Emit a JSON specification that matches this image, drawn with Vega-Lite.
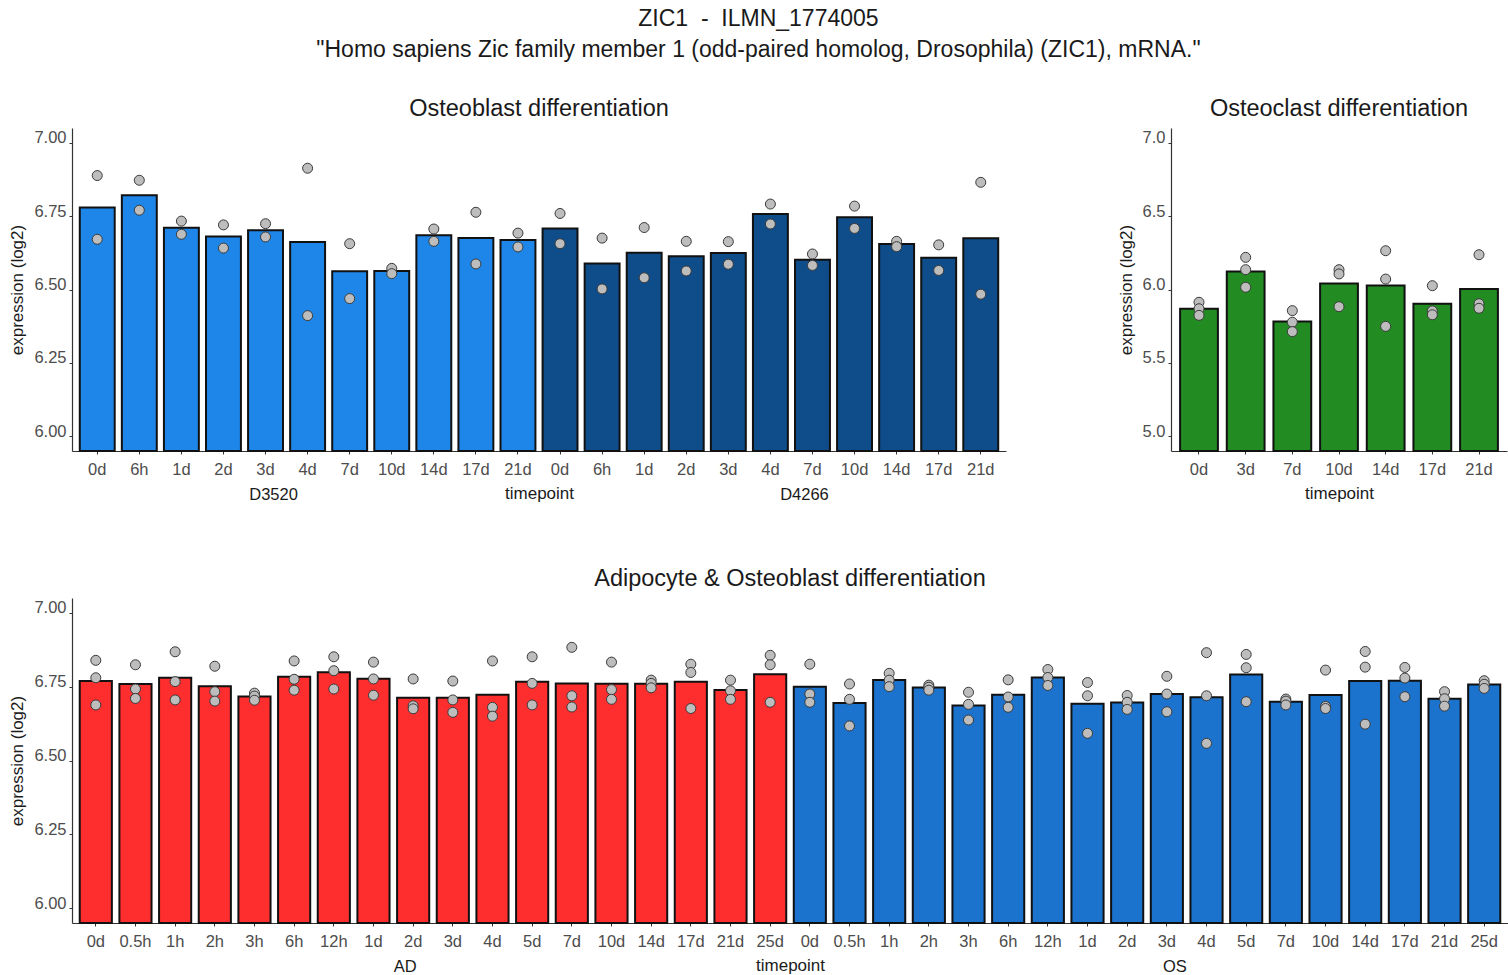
{
  "$schema": "https://vega.github.io/schema/vega-lite/v6.json",
  "padding": {"left": 8, "top": 7, "right": 0, "bottom": 0},
  "title": {
    "text": "ZIC1 \u00a0-\u00a0 ILMN_1774005",
    "subtitle": "\"Homo sapiens Zic family member 1 (odd-paired homolog, Drosophila) (ZIC1), mRNA.\"",
    "anchor": "middle",
    "frame": "bounds",
    "fontSize": 23,
    "subtitleFontSize": 23,
    "subtitleColor": "#1a1a1a",
    "subtitleFont": "Liberation Sans",
    "subtitlePadding": 8,
    "offset": 35
  },
  "datasets": {
    "osteoblast": [
      {"series": "D3520", "slot": "01|0d", "expr": 6.888}, {"series": "D3520", "slot": "01|0d", "expr": 6.671},
      {"series": "D3520", "slot": "02|6h", "expr": 6.872}, {"series": "D3520", "slot": "02|6h", "expr": 6.770},
      {"series": "D3520", "slot": "03|1d", "expr": 6.733}, {"series": "D3520", "slot": "03|1d", "expr": 6.688},
      {"series": "D3520", "slot": "04|2d", "expr": 6.720}, {"series": "D3520", "slot": "04|2d", "expr": 6.641},
      {"series": "D3520", "slot": "05|3d", "expr": 6.724}, {"series": "D3520", "slot": "05|3d", "expr": 6.679},
      {"series": "D3520", "slot": "06|4d", "expr": 6.913}, {"series": "D3520", "slot": "06|4d", "expr": 6.411},
      {"series": "D3520", "slot": "07|7d", "expr": 6.656}, {"series": "D3520", "slot": "07|7d", "expr": 6.469},
      {"series": "D3520", "slot": "08|10d", "expr": 6.572}, {"series": "D3520", "slot": "08|10d", "expr": 6.554},
      {"series": "D3520", "slot": "09|14d", "expr": 6.706}, {"series": "D3520", "slot": "09|14d", "expr": 6.664},
      {"series": "D3520", "slot": "10|17d", "expr": 6.763}, {"series": "D3520", "slot": "10|17d", "expr": 6.587},
      {"series": "D3520", "slot": "11|21d", "expr": 6.692}, {"series": "D3520", "slot": "11|21d", "expr": 6.645},
      {"series": "D4266", "slot": "12|0d", "expr": 6.759}, {"series": "D4266", "slot": "12|0d", "expr": 6.656},
      {"series": "D4266", "slot": "13|6h", "expr": 6.675}, {"series": "D4266", "slot": "13|6h", "expr": 6.502},
      {"series": "D4266", "slot": "14|1d", "expr": 6.711}, {"series": "D4266", "slot": "14|1d", "expr": 6.540},
      {"series": "D4266", "slot": "15|2d", "expr": 6.664}, {"series": "D4266", "slot": "15|2d", "expr": 6.563},
      {"series": "D4266", "slot": "16|3d", "expr": 6.663}, {"series": "D4266", "slot": "16|3d", "expr": 6.586},
      {"series": "D4266", "slot": "17|4d", "expr": 6.791}, {"series": "D4266", "slot": "17|4d", "expr": 6.723},
      {"series": "D4266", "slot": "18|7d", "expr": 6.621}, {"series": "D4266", "slot": "18|7d", "expr": 6.582},
      {"series": "D4266", "slot": "19|10d", "expr": 6.784}, {"series": "D4266", "slot": "19|10d", "expr": 6.708},
      {"series": "D4266", "slot": "20|14d", "expr": 6.664}, {"series": "D4266", "slot": "20|14d", "expr": 6.646},
      {"series": "D4266", "slot": "21|17d", "expr": 6.652}, {"series": "D4266", "slot": "21|17d", "expr": 6.565},
      {"series": "D4266", "slot": "22|21d", "expr": 6.865}, {"series": "D4266", "slot": "22|21d", "expr": 6.484}
    ],
    "osteoclast": [
      {"slot": "1|0d", "expr": 5.913}, {"slot": "1|0d", "expr": 5.869}, {"slot": "1|0d", "expr": 5.824},
      {"slot": "2|3d", "expr": 6.219}, {"slot": "2|3d", "expr": 6.135}, {"slot": "2|3d", "expr": 6.015},
      {"slot": "3|7d", "expr": 5.856}, {"slot": "3|7d", "expr": 5.777}, {"slot": "3|7d", "expr": 5.713},
      {"slot": "4|10d", "expr": 6.135}, {"slot": "4|10d", "expr": 6.106}, {"slot": "4|10d", "expr": 5.883},
      {"slot": "5|14d", "expr": 6.264}, {"slot": "5|14d", "expr": 6.071}, {"slot": "5|14d", "expr": 5.749},
      {"slot": "6|17d", "expr": 6.026}, {"slot": "6|17d", "expr": 5.854}, {"slot": "6|17d", "expr": 5.828},
      {"slot": "7|21d", "expr": 6.237}, {"slot": "7|21d", "expr": 5.903}, {"slot": "7|21d", "expr": 5.872}
    ],
    "adipo": [
      {"series": "AD", "slot": "01|0d", "expr": 6.839}, {"series": "AD", "slot": "01|0d", "expr": 6.780}, {"series": "AD", "slot": "01|0d", "expr": 6.688},
      {"series": "AD", "slot": "02|0.5h", "expr": 6.824}, {"series": "AD", "slot": "02|0.5h", "expr": 6.742}, {"series": "AD", "slot": "02|0.5h", "expr": 6.710},
      {"series": "AD", "slot": "03|1h", "expr": 6.868}, {"series": "AD", "slot": "03|1h", "expr": 6.767}, {"series": "AD", "slot": "03|1h", "expr": 6.705},
      {"series": "AD", "slot": "04|2h", "expr": 6.819}, {"series": "AD", "slot": "04|2h", "expr": 6.733}, {"series": "AD", "slot": "04|2h", "expr": 6.701},
      {"series": "AD", "slot": "05|3h", "expr": 6.728}, {"series": "AD", "slot": "05|3h", "expr": 6.718}, {"series": "AD", "slot": "05|3h", "expr": 6.704},
      {"series": "AD", "slot": "06|6h", "expr": 6.837}, {"series": "AD", "slot": "06|6h", "expr": 6.775}, {"series": "AD", "slot": "06|6h", "expr": 6.738},
      {"series": "AD", "slot": "07|12h", "expr": 6.851}, {"series": "AD", "slot": "07|12h", "expr": 6.804}, {"series": "AD", "slot": "07|12h", "expr": 6.742},
      {"series": "AD", "slot": "08|1d", "expr": 6.833}, {"series": "AD", "slot": "08|1d", "expr": 6.776}, {"series": "AD", "slot": "08|1d", "expr": 6.721},
      {"series": "AD", "slot": "09|2d", "expr": 6.776}, {"series": "AD", "slot": "09|2d", "expr": 6.685}, {"series": "AD", "slot": "09|2d", "expr": 6.675},
      {"series": "AD", "slot": "10|3d", "expr": 6.769}, {"series": "AD", "slot": "10|3d", "expr": 6.705}, {"series": "AD", "slot": "10|3d", "expr": 6.663},
      {"series": "AD", "slot": "11|4d", "expr": 6.837}, {"series": "AD", "slot": "11|4d", "expr": 6.680}, {"series": "AD", "slot": "11|4d", "expr": 6.650},
      {"series": "AD", "slot": "12|5d", "expr": 6.851}, {"series": "AD", "slot": "12|5d", "expr": 6.761}, {"series": "AD", "slot": "12|5d", "expr": 6.688},
      {"series": "AD", "slot": "13|7d", "expr": 6.883}, {"series": "AD", "slot": "13|7d", "expr": 6.719}, {"series": "AD", "slot": "13|7d", "expr": 6.681},
      {"series": "AD", "slot": "14|10d", "expr": 6.833}, {"series": "AD", "slot": "14|10d", "expr": 6.740}, {"series": "AD", "slot": "14|10d", "expr": 6.707},
      {"series": "AD", "slot": "15|14d", "expr": 6.772}, {"series": "AD", "slot": "15|14d", "expr": 6.761}, {"series": "AD", "slot": "15|14d", "expr": 6.746},
      {"series": "AD", "slot": "16|17d", "expr": 6.826}, {"series": "AD", "slot": "16|17d", "expr": 6.798}, {"series": "AD", "slot": "16|17d", "expr": 6.676},
      {"series": "AD", "slot": "17|21d", "expr": 6.772}, {"series": "AD", "slot": "17|21d", "expr": 6.736}, {"series": "AD", "slot": "17|21d", "expr": 6.707},
      {"series": "AD", "slot": "18|25d", "expr": 6.856}, {"series": "AD", "slot": "18|25d", "expr": 6.824}, {"series": "AD", "slot": "18|25d", "expr": 6.697},
      {"series": "OS", "slot": "19|0d", "expr": 6.826}, {"series": "OS", "slot": "19|0d", "expr": 6.725}, {"series": "OS", "slot": "19|0d", "expr": 6.697},
      {"series": "OS", "slot": "20|0.5h", "expr": 6.759}, {"series": "OS", "slot": "20|0.5h", "expr": 6.707}, {"series": "OS", "slot": "20|0.5h", "expr": 6.617},
      {"series": "OS", "slot": "21|1h", "expr": 6.795}, {"series": "OS", "slot": "21|1h", "expr": 6.772}, {"series": "OS", "slot": "21|1h", "expr": 6.750},
      {"series": "OS", "slot": "22|2h", "expr": 6.755}, {"series": "OS", "slot": "22|2h", "expr": 6.748}, {"series": "OS", "slot": "22|2h", "expr": 6.738},
      {"series": "OS", "slot": "23|3h", "expr": 6.731}, {"series": "OS", "slot": "23|3h", "expr": 6.690}, {"series": "OS", "slot": "23|3h", "expr": 6.637},
      {"series": "OS", "slot": "24|6h", "expr": 6.773}, {"series": "OS", "slot": "24|6h", "expr": 6.715}, {"series": "OS", "slot": "24|6h", "expr": 6.680},
      {"series": "OS", "slot": "25|12h", "expr": 6.808}, {"series": "OS", "slot": "25|12h", "expr": 6.781}, {"series": "OS", "slot": "25|12h", "expr": 6.754},
      {"series": "OS", "slot": "26|1d", "expr": 6.764}, {"series": "OS", "slot": "26|1d", "expr": 6.719}, {"series": "OS", "slot": "26|1d", "expr": 6.592},
      {"series": "OS", "slot": "27|2d", "expr": 6.720}, {"series": "OS", "slot": "27|2d", "expr": 6.697}, {"series": "OS", "slot": "27|2d", "expr": 6.673},
      {"series": "OS", "slot": "28|3d", "expr": 6.785}, {"series": "OS", "slot": "28|3d", "expr": 6.725}, {"series": "OS", "slot": "28|3d", "expr": 6.665},
      {"series": "OS", "slot": "29|4d", "expr": 6.865}, {"series": "OS", "slot": "29|4d", "expr": 6.719}, {"series": "OS", "slot": "29|4d", "expr": 6.558},
      {"series": "OS", "slot": "30|5d", "expr": 6.859}, {"series": "OS", "slot": "30|5d", "expr": 6.814}, {"series": "OS", "slot": "30|5d", "expr": 6.699},
      {"series": "OS", "slot": "31|7d", "expr": 6.708}, {"series": "OS", "slot": "31|7d", "expr": 6.701}, {"series": "OS", "slot": "31|7d", "expr": 6.688},
      {"series": "OS", "slot": "32|10d", "expr": 6.806}, {"series": "OS", "slot": "32|10d", "expr": 6.683}, {"series": "OS", "slot": "32|10d", "expr": 6.676},
      {"series": "OS", "slot": "33|14d", "expr": 6.869}, {"series": "OS", "slot": "33|14d", "expr": 6.816}, {"series": "OS", "slot": "33|14d", "expr": 6.623},
      {"series": "OS", "slot": "34|17d", "expr": 6.815}, {"series": "OS", "slot": "34|17d", "expr": 6.779}, {"series": "OS", "slot": "34|17d", "expr": 6.716},
      {"series": "OS", "slot": "35|21d", "expr": 6.733}, {"series": "OS", "slot": "35|21d", "expr": 6.709}, {"series": "OS", "slot": "35|21d", "expr": 6.684},
      {"series": "OS", "slot": "36|25d", "expr": 6.770}, {"series": "OS", "slot": "36|25d", "expr": 6.758}, {"series": "OS", "slot": "36|25d", "expr": 6.744}
    ]
  },
  "vconcat": [
    {
      "hconcat": [
        {
          "title": {"text": "Osteoblast differentiation"},
          "width": 934,
          "height": 323,
          "data": {"name": "osteoblast"},
          "encoding": {
            "x": {
              "field": "slot", "type": "nominal",
              "scale": {"paddingInner": 0.17, "paddingOuter": 0.185},
              "axis": {"title": "timepoint", "labelExpr": "split(datum.value, '|')[1]"}
            }
          },
          "layer": [
            {
              "mark": {"type": "bar", "stroke": "#111111", "strokeWidth": 2},
              "encoding": {
                "y": {
                  "aggregate": "mean", "field": "expr", "type": "quantitative", "stack": null,
                  "scale": {"domain": [5.95, 7.05], "zero": false, "nice": false},
                  "axis": {"title": "expression (log2)", "values": [6, 6.25, 6.5, 6.75, 7], "format": ".2f"}
                },
                "color": {
                  "field": "series", "type": "nominal", "legend": null,
                  "scale": {"domain": ["D3520", "D4266"], "range": ["#1E86E8", "#0F4C8A"]}
                }
              }
            },
            {
              "mark": {"type": "point", "filled": true, "fill": "#BDBDBD", "stroke": "#3a3a3a", "strokeWidth": 1, "size": 100, "opacity": 1},
              "encoding": {"y": {"field": "expr", "type": "quantitative"}}
            },
            {
              "data": {"values": [{"group": "D3520"}]},
              "mark": {"type": "text", "fontSize": 16.5, "color": "#1a1a1a", "baseline": "middle", "dx": 8},
              "encoding": {"x": {"datum": "05|3d"}, "y": {"datum": 5.8, "type": "quantitative"}, "text": {"field": "group"}}
            },
            {
              "data": {"values": [{"group": "D4266"}]},
              "mark": {"type": "text", "fontSize": 16.5, "color": "#1a1a1a", "baseline": "middle", "dx": -8},
              "encoding": {"x": {"datum": "18|7d"}, "y": {"datum": 5.8, "type": "quantitative"}, "text": {"field": "group"}}
            }
          ]
        },
        {
          "title": {"text": "Osteoclast differentiation"},
          "width": 336,
          "height": 323,
          "data": {"name": "osteoclast"},
          "encoding": {
            "x": {
              "field": "slot", "type": "nominal",
              "scale": {"paddingInner": 0.19, "paddingOuter": 0.195},
              "axis": {"title": "timepoint", "labelExpr": "split(datum.value, '|')[1]"}
            }
          },
          "layer": [
            {
              "mark": {"type": "bar", "stroke": "#111111", "strokeWidth": 2, "color": "#228B22"},
              "encoding": {
                "y": {
                  "aggregate": "mean", "field": "expr", "type": "quantitative", "stack": null,
                  "scale": {"domain": [4.9, 7.1], "zero": false, "nice": false},
                  "axis": {"title": "expression (log2)", "values": [5, 5.5, 6, 6.5, 7], "format": ".1f"}
                }
              }
            },
            {
              "mark": {"type": "point", "filled": true, "fill": "#BDBDBD", "stroke": "#3a3a3a", "strokeWidth": 1, "size": 100, "opacity": 1},
              "encoding": {"y": {"field": "expr", "type": "quantitative"}}
            }
          ]
        }
      ],
      "spacing": 111,
      "resolve": {"scale": {"color": "independent", "x": "independent", "y": "independent"}}
    },
    {
      "title": {"text": "Adipocyte & Osteoblast differentiation"},
      "width": 1436,
      "height": 325,
      "data": {"name": "adipo"},
      "encoding": {
        "x": {
          "field": "slot", "type": "nominal",
          "scale": {"paddingInner": 0.19, "paddingOuter": 0.195},
          "axis": {"title": "timepoint", "labelExpr": "split(datum.value, '|')[1]"}
        }
      },
      "layer": [
        {
          "mark": {"type": "bar", "stroke": "#111111", "strokeWidth": 2},
          "encoding": {
            "y": {
              "aggregate": "mean", "field": "expr", "type": "quantitative", "stack": null,
              "scale": {"domain": [5.95, 7.05], "zero": false, "nice": false},
              "axis": {"title": "expression (log2)", "values": [6, 6.25, 6.5, 6.75, 7], "format": ".2f"}
            },
            "color": {
              "field": "series", "type": "nominal", "legend": null,
              "scale": {"domain": ["AD", "OS"], "range": ["#FF2E2E", "#1B73CD"]}
            }
          }
        },
        {
          "mark": {"type": "point", "filled": true, "fill": "#BDBDBD", "stroke": "#3a3a3a", "strokeWidth": 1, "size": 100, "opacity": 1},
          "encoding": {"y": {"field": "expr", "type": "quantitative"}}
        },
        {
          "data": {"values": [{"group": "AD"}]},
          "mark": {"type": "text", "fontSize": 16.5, "color": "#1a1a1a", "baseline": "middle", "dx": -8},
          "encoding": {"x": {"datum": "09|2d"}, "y": {"datum": 5.8, "type": "quantitative"}, "text": {"field": "group"}}
        },
        {
          "data": {"values": [{"group": "OS"}]},
          "mark": {"type": "text", "fontSize": 16.5, "color": "#1a1a1a", "baseline": "middle", "dx": 8},
          "encoding": {"x": {"datum": "28|3d"}, "y": {"datum": 5.8, "type": "quantitative"}, "text": {"field": "group"}}
        }
      ]
    }
  ],
  "spacing": 62,
  "resolve": {"scale": {"color": "independent", "x": "independent", "y": "independent"}},
  "config": {
    "font": "Liberation Sans",
    "view": {"stroke": null},
    "axis": {
      "grid": false,
      "domainColor": "#333333",
      "domainWidth": 1.2,
      "tickColor": "#333333",
      "tickSize": 3,
      "labelColor": "#4d4d4d",
      "labelFontSize": 16.5,
      "labelFont": "Liberation Sans",
      "titleFont": "Liberation Sans",
      "titleFontSize": 17,
      "titleFontWeight": "normal",
      "titleColor": "#1a1a1a"
    },
    "axisX": {"labelAngle": 0, "labelPadding": 7, "titlePadding": 8},
    "axisY": {"labelPadding": 3, "labelBaseline": "alphabetic", "titlePadding": 7},
    "title": {"fontSize": 23.5, "fontWeight": "normal", "color": "#1a1a1a", "offset": 8}
  }
}
